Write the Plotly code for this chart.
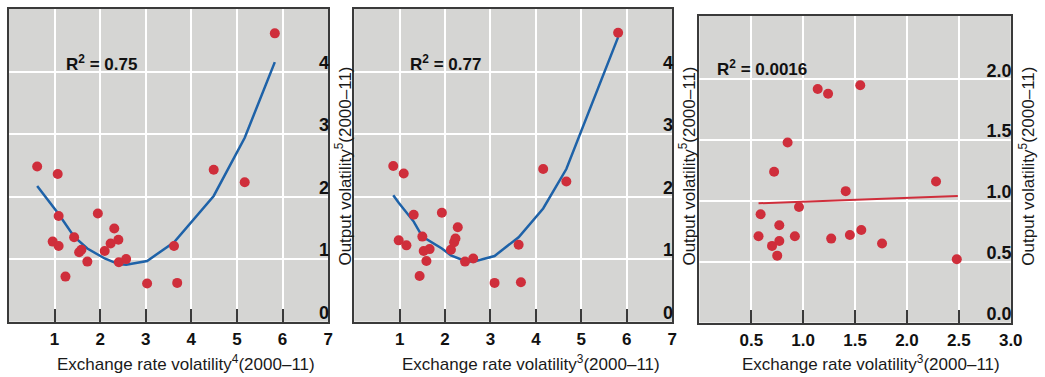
import plotly.graph_objects as go

# ---- data ----
p1_x = [0.62, 1.07, 1.09, 0.96, 1.09, 1.24, 1.43, 1.54, 1.59, 1.72, 1.95, 2.10, 2.23, 2.31, 2.40, 2.41, 2.57, 3.03, 3.62, 3.69, 4.49, 5.17, 5.83]
p1_y = [2.48, 2.36, 1.69, 1.28, 1.21, 0.72, 1.35, 1.11, 1.15, 0.96, 1.73, 1.13, 1.25, 1.49, 1.31, 0.95, 1.00, 0.61, 1.21, 0.62, 2.43, 2.23, 4.61]
p1_fit_x = [0.62, 1.09, 1.43, 1.72, 2.10, 2.40, 2.57, 3.03, 3.62, 4.49, 5.17, 5.83]
p1_fit_y = [2.17, 1.72, 1.36, 1.17, 1.01, 0.92, 0.91, 0.97, 1.27, 2.01, 2.94, 4.15]

p2_x = [0.86, 1.09, 0.98, 1.15, 1.31, 1.50, 1.53, 1.66, 1.59, 1.44, 1.93, 2.13, 2.20, 2.23, 2.28, 2.44, 2.62, 3.09, 3.62, 3.67, 4.16, 4.67, 5.81]
p2_y = [2.49, 2.37, 1.30, 1.22, 1.71, 1.36, 1.13, 1.16, 0.97, 0.73, 1.74, 1.15, 1.27, 1.33, 1.51, 0.96, 1.01, 0.62, 1.23, 0.63, 2.44, 2.24, 4.62]
p2_fit_x = [0.86, 0.98, 1.31, 1.50, 1.93, 2.13, 2.44, 2.62, 3.09, 3.62, 4.16, 4.67, 5.81]
p2_fit_y = [2.02, 1.90, 1.60, 1.36, 1.17, 1.06, 0.97, 0.96, 1.05, 1.35, 1.81, 2.44, 4.55]

p3_x = [0.59, 0.57, 0.72, 0.77, 0.70, 0.77, 0.75, 0.85, 0.92, 0.96, 1.14, 1.24, 1.27, 1.41, 1.45, 1.55, 1.56, 1.76, 2.28, 2.48]
p3_y = [0.89, 0.71, 1.24, 0.80, 0.63, 0.67, 0.55, 1.48, 0.71, 0.95, 1.92, 1.88, 0.69, 1.08, 0.72, 1.95, 0.76, 0.65, 1.16, 0.52]
p3_fit_x = [0.57, 2.49]
p3_fit_y = [0.98, 1.04]

x_ticks_12 = [1, 2, 3, 4, 5, 6, 7]
y_ticks_12 = [0, 1, 2, 3, 4]
x_ticks_3 = [0.5, 1.0, 1.5, 2.0, 2.5, 3.0]
y_ticks_3 = [0.0, 0.5, 1.0, 1.5, 2.0]

r2_labels = ["R<sup>2</sup> = 0.75", "R<sup>2</sup> = 0.77", "R<sup>2</sup> = 0.0016"]
x_titles = ["Exchange rate volatility<sup>4</sup>(2000–11)",
            "Exchange rate volatility<sup>3</sup>(2000–11)",
            "Exchange rate volatility<sup>3</sup>(2000–11)"]
y_title = "Output volatility<sup>5</sup>(2000–11)"

# ---- styling ----
W, H = 1045, 377
BG = "#d5d5d3"
RED = "#cf2e3b"
BLUE = "#1e62a8"
LINE = "#3a3a3a"
FONT = "Liberation Sans, Arial, sans-serif"

fig = go.Figure()

def px_x(v):
    return v / W

def px_y(v):
    return (H - v) / H

def bold_labels(vals, fmt):
    return [f"<b>{v:{fmt}}</b>" for v in vals]

panels = [
    dict(xs=p1_x, ys=p1_y, fx=p1_fit_x, fy=p1_fit_y, fc=BLUE, fw=2.5,
         xd=[px_x(9), px_x(332)], yd=[px_y(322.5), px_y(9)],
         xr=[0, 7], yr=[0, 5], xt=x_ticks_12, yt=y_ticks_12, fmt="d"),
    dict(xs=p2_x, ys=p2_y, fx=p2_fit_x, fy=p2_fit_y, fc=BLUE, fw=2.5,
         xd=[px_x(358.3), px_x(680)], yd=[px_y(322.5), px_y(9)],
         xr=[0, 7], yr=[0, 5], xt=x_ticks_12, yt=y_ticks_12, fmt="d"),
    dict(xs=p3_x, ys=p3_y, fx=p3_fit_x, fy=p3_fit_y, fc=RED, fw=2,
         xd=[px_x(707.5), px_x(1022.5)], yd=[px_y(323.4), px_y(16)],
         xr=[0, 3], yr=[0, 2.52], xt=x_ticks_3, yt=y_ticks_3, fmt=".1f"),
]

for i, p in enumerate(panels, start=1):
    xa = "x" if i == 1 else f"x{i}"
    ya = "y" if i == 1 else f"y{i}"
    fig.add_trace(go.Scatter(x=p["fx"], y=p["fy"], mode="lines",
                             line=dict(color=p["fc"], width=p["fw"]),
                             xaxis=xa, yaxis=ya, showlegend=False, hoverinfo="skip"))
    fig.add_trace(go.Scatter(x=p["xs"], y=p["ys"], mode="markers",
                             marker=dict(color=RED, size=10),
                             xaxis=xa, yaxis=ya, showlegend=False))
    xkey = "xaxis" if i == 1 else f"xaxis{i}"
    ykey = "yaxis" if i == 1 else f"yaxis{i}"
    fig.update_layout(**{
        xkey: dict(domain=p["xd"], range=p["xr"], anchor=ya,
                   tickvals=p["xt"], ticktext=bold_labels(p["xt"], p["fmt"]),
                   showgrid=True, gridcolor="white", gridwidth=1.5,
                   zeroline=False, showline=True, linecolor=LINE, linewidth=2,
                   mirror=True, ticks="inside", ticklen=13, tickwidth=1.5,
                   tickcolor=LINE, ticklabelstandoff=1,
                   ticklabeloverflow="allow",
                   tickfont=dict(family=FONT, size=17, color="#111"),
                   fixedrange=True),
        ykey: dict(domain=p["yd"], range=p["yr"], anchor=xa, side="right",
                   tickvals=p["yt"], ticktext=bold_labels(p["yt"], p["fmt"]),
                   ticklabelposition="inside", ticklabelshift=-9,
                   ticklabeloverflow="allow",
                   showgrid=True, gridcolor="white", gridwidth=1.5,
                   zeroline=False, showline=True, linecolor=LINE, linewidth=1.5,
                   mirror=True, ticks="",
                   tickfont=dict(family=FONT, size=18, color="#111"),
                   fixedrange=True),
    })

annotations = []
r2_pos = [(65, 63), (413, 63), (723, 68)]
for (x, y), t in zip(r2_pos, r2_labels):
    annotations.append(dict(x=px_x(x), y=px_y(y), xref="paper", yref="paper",
                            text=f"<b>{t}</b>", showarrow=False,
                            xanchor="left", yanchor="middle",
                            font=dict(family=FONT, size=17, color="#111")))
for x, t in zip([188, 537, 881], x_titles):
    annotations.append(dict(x=px_x(x), y=px_y(364), xref="paper", yref="paper",
                            text=t, showarrow=False, xanchor="center", yanchor="middle",
                            font=dict(family=FONT, size=17, color="#1a1a1a")))
for x in [347, 695, 1038]:
    annotations.append(dict(x=px_x(x), y=px_y(167), xref="paper", yref="paper",
                            text=y_title, showarrow=False, textangle=-90,
                            xanchor="center", yanchor="middle",
                            font=dict(family=FONT, size=17, color="#1a1a1a")))

fig.update_layout(width=W, height=H, margin=dict(l=0, r=0, t=0, b=0),
                  paper_bgcolor="white", plot_bgcolor=BG,
                  annotations=annotations, showlegend=False)

fig.write_html("out.html")
